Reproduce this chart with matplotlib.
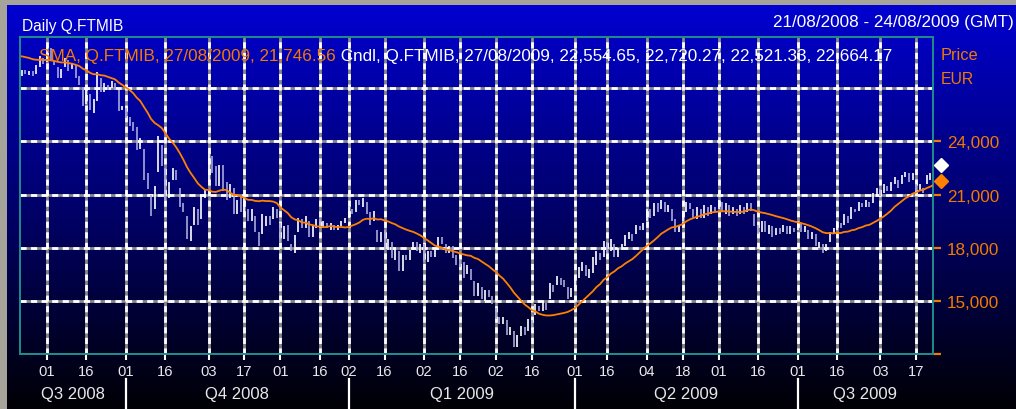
import numpy as np
import pandas as pd
import matplotlib
matplotlib.use("Agg")
import matplotlib.pyplot as plt
from matplotlib import transforms
from matplotlib.patches import Rectangle

plt.rcParams['font.family'] = ['Liberation Sans', 'DejaVu Sans']

# ---------------- data ----------------
title = "Daily Q.FTMIB"
range_text = "21/08/2008 - 24/08/2009 (GMT)"
sma_legend = "SMA, Q.FTMIB, 27/08/2009, 21,746.56"
cndl_legend = " Cndl, Q.FTMIB, 27/08/2009, 22,554.65, 22,720.27, 22,521.33, 22,664.17"
last_close = 22664.17
last_sma = 21746.56
sma_window = 20

holidays = ["2008-12-24", "2008-12-25", "2008-12-26", "2008-12-31",
            "2009-01-01", "2009-04-10", "2009-04-13", "2009-05-01"]

# closes of the 19 sessions before the first candle (feed the SMA)
pre_closes = [28700, 28900, 29100, 29000, 28800, 28700, 29000, 29200, 28900, 28700,
              28800, 28600, 28900, 29000, 28800, 28700, 28900, 28800, 28600]

opens = [
    # Aug 2008
    27700, 28050, 27750, 28000, 27800, 28200, 28700,
    # Sep 2008
    28500, 29300, 28600, 28200, 27600, 28200, 28600, 28100, 28300, 27700, 27100, 26100, 26700, 25600,
    26300, 27600, 26800, 27200, 27000, 27300, 26900, 25800,
    # Oct 2008
    25900, 25400, 25100, 24800, 23600, 23600, 22200, 21000, 20200, 22300, 23800, 22500, 20800, 21800,
    22400, 21400, 20500, 19800, 18400, 19300, 20200, 19600, 20800,
    # Nov 2008
    21700, 23200, 22600, 21500, 22700, 21700, 20800, 21400, 19900, 20900, 20000, 20200, 19500, 19800,
    18900, 18800, 19200, 19800, 19600, 20200,
    # Dec 2008
    19400, 18500, 19300, 18200, 17700, 18900, 19600, 19100, 19500, 18600, 19100, 19600, 19100, 19400,
    19000, 19300, 19000, 19200, 19400,
    # Jan 2009
    19700, 20200, 20000, 20700, 20300, 20600, 20000, 19500, 19000, 18300, 19000, 17900, 18300, 17300,
    17800, 16700, 17600, 17300, 17900, 18300, 17700,
    # Feb 2009
    18200, 17200, 17800, 17500, 17900, 18600, 18200, 17700, 18100, 17600, 17300, 17200, 16500, 16800,
    16100, 15300, 15800, 15000, 15600, 15300,
    # Mar 2009
    14600, 14100, 13700, 13900, 13100, 13300, 12400, 13000, 13500, 13300, 13900, 14200, 14700, 14400,
    14900, 15100, 15900, 15900, 16300, 16200, 15800, 15200,
    # Apr 2009
    15800, 16300, 16700, 17000, 16300, 16600, 17000, 17700, 17500, 18300, 17800, 18200, 17500, 17900,
    18100, 18500, 18800, 18800, 19200, 19000,
    # May 2009
    19500, 20200, 19800, 20500, 20200, 20600, 20000, 20200, 19600, 18900, 19500, 20000, 20500, 20200,
    19600, 20200, 19700, 20300, 19900, 20300,
    # Jun 2009
    20200, 20600, 19900, 20400, 19900, 20200, 19900, 20300, 20000, 20500, 19900, 19300, 18900, 19500,
    18800, 19200, 18700, 19100, 18900, 19200, 18800, 19100,
    # Jul 2009
    19000, 19400, 18900, 19000, 18500, 18800, 18000, 18200, 17800, 18300, 18800, 19000, 19400, 19300,
    19800, 19600, 20200, 20100, 20500, 20300, 20600, 20500, 21000,
    # Aug 2009
    21300, 21100, 21500, 21200, 21600, 21800, 21600, 22000, 22200, 21800, 21600, 21200, 21400, 21600,
    21800, 22000,
]

closes = [
    # Aug 2008
    28050, 27800, 28000, 27700, 28300, 28800, 28400,
    # Sep 2008
    29300, 28600, 28300, 27600, 28100, 28700, 28000, 28400, 27600, 27200, 26000, 26900, 25800, 26400,
    27900, 26800, 27300, 26900, 27400, 26900, 25700, 26000,
    # Oct 2008
    25300, 24900, 24600, 23500, 24200, 21800, 21300, 19800, 21500, 24300, 22600, 20700, 21700, 22500,
    21800, 20300, 20000, 18500, 19200, 20300, 19300, 20900, 21300,
    # Nov 2008
    23300, 22200, 21500, 22700, 21200, 20700, 21600, 19900, 20700, 20000, 21000, 19500, 20200, 18900,
    18100, 19900, 19800, 19300, 20300, 19700,
    # Dec 2008
    18300, 19200, 18400, 17800, 18700, 19700, 19100, 19800, 18600, 19300, 19600, 19200, 19500, 19100,
    19400, 19000, 19300, 19500, 19700,
    # Jan 2009
    20300, 19900, 20700, 20400, 20800, 19900, 19300, 20100, 18300, 18900, 17900, 18500, 17400, 18000,
    16700, 17600, 17300, 17900, 18300, 17800, 18200,
    # Feb 2009
    17200, 17800, 17500, 17900, 18600, 18200, 17700, 18100, 17400, 17000, 16900, 16300, 17000, 16200,
    15300, 16000, 15100, 15600, 15200, 14800,
    # Mar 2009
    14000, 13700, 14100, 13100, 13500, 12400, 13100, 13600, 13100, 14000, 13500, 14800, 14400, 15000,
    14500, 16000, 15500, 16400, 15900, 15800, 15100, 15700,
    # Apr 2009
    16400, 16900, 17200, 16400, 16800, 17500, 17800, 17300, 18400, 17700, 18500, 17500, 18000, 18200,
    18700, 18900, 18400, 19300, 19000, 19400,
    # May 2009
    20200, 19700, 20500, 20000, 20700, 20000, 20400, 19500, 18900, 19300, 20100, 20600, 20200, 19700,
    20300, 19700, 20400, 19800, 20400, 20000,
    # Jun 2009
    20700, 20000, 20500, 19800, 20300, 19800, 20400, 19900, 20500, 20100, 19200, 18800, 19500, 18900,
    19300, 18600, 19100, 18800, 19300, 18800, 19200, 18900,
    # Jul 2009
    19500, 18900, 19200, 18500, 18900, 18100, 18300, 17700, 18200, 18900, 19100, 19500, 19100, 19900,
    19400, 20300, 20000, 20600, 20300, 20700, 20300, 21100, 21400,
    # Aug 2009
    20900, 21600, 21200, 21700, 22000, 21400, 22100, 22300, 21700, 22200, 21200, 21600, 21100, 22100,
    22200, 22400,
]

tick_dates = ["2008-09-01", "2008-09-16", "2008-10-01", "2008-10-16", "2008-11-03", "2008-11-17",
              "2008-12-01", "2008-12-16", "2009-01-02", "2009-01-16", "2009-02-02", "2009-02-16",
              "2009-03-02", "2009-03-16", "2009-04-01", "2009-04-16", "2009-05-04", "2009-05-18",
              "2009-06-01", "2009-06-16", "2009-07-01", "2009-07-16", "2009-08-03", "2009-08-17"]
quarter_labels = ["Q3 2008", "Q4 2008", "Q1 2009", "Q2 2009", "Q3 2009"]
quarter_starts = ["2008-10-01", "2009-01-02", "2009-04-01", "2009-07-01"]
price_ticks = [12000, 15000, 18000, 21000, 24000]
price_labels = [15000, 18000, 21000, 24000]
grid_prices = [12000, 15000, 18000, 21000, 24000, 27000]

# ---------------- derived ----------------
dates = pd.bdate_range("2008-08-21", "2009-08-24")
dates = dates[~dates.isin(pd.to_datetime(holidays))]
n = min(len(dates), len(opens), len(closes))
dates = dates[:n]
o = np.array(opens[:n], dtype=float)
c = np.array(closes[:n], dtype=float)
idx = np.arange(n)
allc = pd.Series(list(pre_closes) + list(c))
sma = allc.rolling(sma_window).mean().to_numpy()[len(pre_closes):]

def pos(d):
    return int(dates.get_indexer([pd.Timestamp(d)], method="bfill")[0])

tick_idx = [pos(d) for d in tick_dates]
tick_lab = [pd.Timestamp(d).strftime("%d") for d in tick_dates]
q_idx = sorted(pos(d) for d in quarter_starts)

# ---------------- figure ----------------
W, H = 1016, 410
fig = plt.figure(figsize=(W / 100, H / 100), dpi=100)

bg = fig.add_axes([0, 0, 1, 1], zorder=-10)
bg.axis("off")
t = np.linspace(0, 1, H)
img = np.zeros((H, 1, 3))
img[:, 0, 2] = 0.83 - 0.81 * t
bg.imshow(img, aspect="auto", extent=[0, 1, 0, 1], origin="upper")
bg.set_xlim(0, 1)
bg.set_ylim(0, 1)

# grey outer border (top + left)
fig.patches.append(Rectangle((0, 1 - 6 / H), 1, 6 / H, transform=fig.transFigure,
                             facecolor="#a6a39b", edgecolor="none", zorder=5))
fig.patches.append(Rectangle((0, 0), 7 / W, 1, transform=fig.transFigure,
                             facecolor="#a6a39b", edgecolor="none", zorder=5))

ax_l, ax_t, ax_r, ax_b = 20, 38, 933, 355
ax = fig.add_axes([ax_l / W, 1 - ax_b / H, (ax_r - ax_l) / W, (ax_b - ax_t) / H])
ax.patch.set_alpha(0)
ax.set_xlim(-0.5, 253.7)
ax.set_ylim(12000, 29900)

teal = "#1f8c8c"
orange_txt = "#f27a00"
orange_line = "#ff8000"

# grid: grey base + white dashes
for p in grid_prices:
    ax.axhline(p, color="#8a8a8a", lw=2.0, zorder=1)
    ax.axhline(p, color="white", lw=2.0, ls=(0, (2.2, 1.6)), zorder=1.1)
for xi in tick_idx:
    ax.axvline(xi, color="#8a8a8a", lw=2.0, zorder=1)
    ax.axvline(xi, color="white", lw=2.0, ls=(0, (2.2, 1.6)), zorder=1.1)

# candles
up = c >= o
lo = np.minimum(o, c)
hi = np.maximum(o, c)
ax.vlines(idx[up], lo[up], hi[up], color="white", lw=1.2, zorder=3)
ax.vlines(idx[~up], lo[~up], hi[~up], color="#a9a9db", lw=1.2, zorder=3)

# SMA
ax.plot(idx, sma, color=orange_line, lw=1.3, zorder=4)

for s in ax.spines.values():
    s.set_color(teal)
    s.set_linewidth(1.4)

# x axis
ax.set_xticks(tick_idx)
ax.set_xticklabels(tick_lab, color="#e8e8e8", fontsize=10.6)
ax.tick_params(axis="x", direction="out", length=4, width=1.5, color="white", pad=3)

# y axis (right)
ax.yaxis.tick_right()
ax.set_yticks(price_ticks)
ax.set_yticklabels(["" if v not in price_labels else f"{v:,}" for v in price_ticks],
                   color=orange_txt, fontsize=12.3)
ax.tick_params(axis="y", direction="out", length=6, width=1.6, color=orange_txt, pad=4)

# last-value diamonds
tr = transforms.blended_transform_factory(ax.transAxes, ax.transData)
xd = 1 + 8 / (ax_r - ax_l)
ax.plot([xd], [last_close], marker="D", ms=6.8, color="white", mec="white", transform=tr,
        clip_on=False, zorder=6)
ax.plot([xd], [last_sma], marker="D", ms=6.8, color=orange_line, mec=orange_line,
        transform=tr, clip_on=False, zorder=6)

def ftext(x, y, s, **kw):
    return fig.text(x / W, 1 - y / H, s, **kw)

ftext(22, 27, title, color="white", fontsize=11.2, va="center", ha="left")
ftext(1014, 22, range_text, color="white", fontsize=12.3, va="center", ha="right")
ftext(941, 55, "Price", color=orange_txt, fontsize=11.8, va="center", ha="left")
ftext(941, 80, "EUR", color=orange_txt, fontsize=11.3, va="center", ha="left")

t1 = ftext(39, 56, sma_legend, color=orange_txt, fontsize=12.3, va="center", ha="left", zorder=7)
ax.annotate(cndl_legend, xy=(1, 0), xycoords=t1, xytext=(0, 0), textcoords="offset pixels",
            color="white", fontsize=12.3, va="bottom", ha="left", annotation_clip=False,
            zorder=7)

# quarter labels and separators
bounds = [-0.5] + q_idx + [253.7]
btr = transforms.blended_transform_factory(ax.transData, ax.transAxes)
for k, lab in enumerate(quarter_labels):
    mid = (bounds[k] + bounds[k + 1]) / 2
    ax.text(mid, -0.125, lab, transform=btr, color="#e8e8e8", fontsize=12,
            ha="center", va="center", clip_on=False)
for qi in q_idx:
    ax.plot([qi, qi], [-0.08, -0.17], color="white", lw=1.6, clip_on=False, transform=btr)

fig.savefig("out.png", dpi=100)
